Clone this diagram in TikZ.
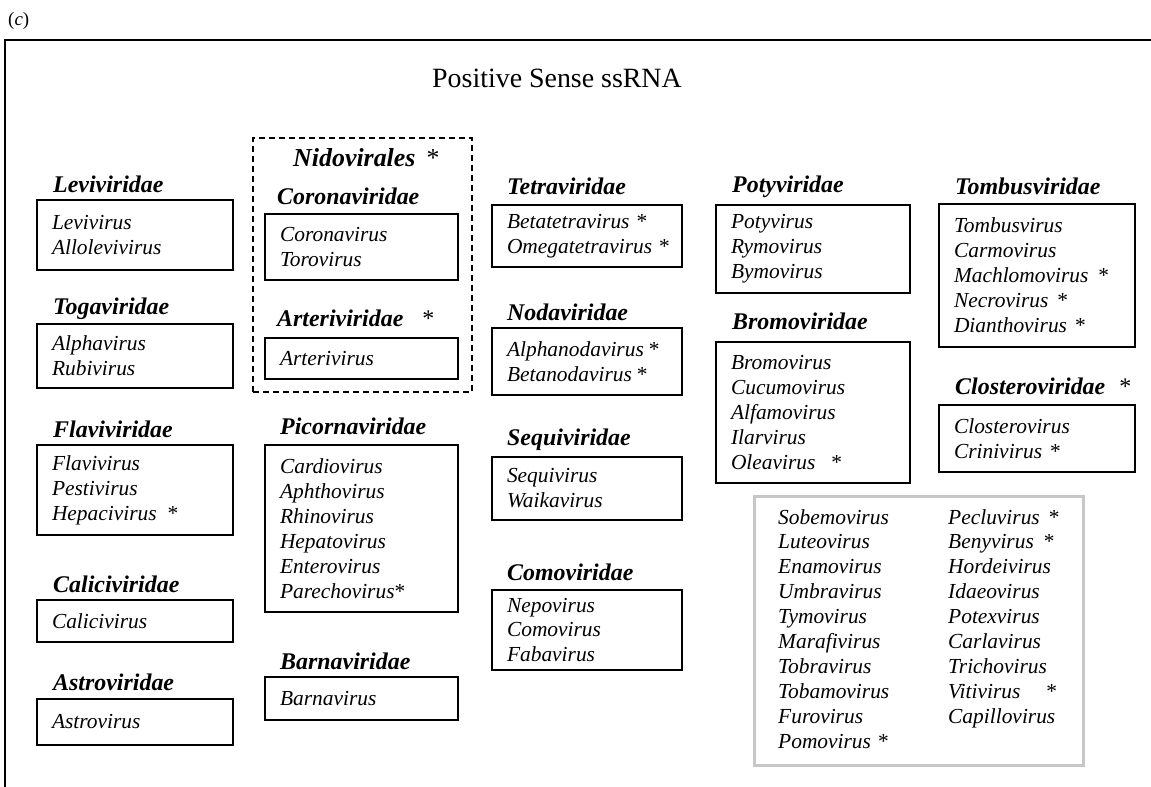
\documentclass[tikz,border=0pt]{standalone}
\usepackage{fontspec}
\setmainfont{Liberation Serif}

\newcommand{\vstar}[1]{\nobreak\hspace{#1bp}{\normalfont *}}

\begin{document}
\begin{tikzpicture}
    [x=1bp,y=-1bp,
fam/.style={anchor=base west,inner sep=0pt,font=\fontsize{24}{28}\selectfont\bfseries\itshape},
gbox/.style={draw,line width=2bp,anchor=north west,outer sep=0pt,inner xsep=15bp,inner ysep=0pt,
  align=left,font=\fontsize{21.5}{25}\selectfont\itshape},
gcol/.style={anchor=north west,inner sep=0pt,align=left,font=\fontsize{21.5}{25}\selectfont\itshape}
]
\useasboundingbox (0,0) rectangle (1151,787);
\draw[line width=2.5bp] (5,787) -- (5,40) -- (1151,40);
\node[anchor=base west,inner sep=0pt,font=\fontsize{19}{22}\selectfont] (panel) at (8,26) {(\textit{c})};
\node[anchor=base,inner sep=0pt,font=\fontsize{28}{32}\selectfont] (title) at (557,88) {Positive Sense ssRNA};

% first column
\node[gbox,text width=166bp,minimum height=70bp] (levibox) at (37,200) {Levivirus\\Allolevivirus};
\node[fam] (levi) at ([shift={(16,-8)}]levibox.north west) {Leviviridae};
\node[gbox,text width=166bp,minimum height=64bp] (togabox) at (37,324) {Alphavirus\\Rubivirus};
\node[fam] (toga) at ([shift={(16,-10)}]togabox.north west) {Togaviridae};
\node[gbox,text width=166bp,minimum height=90bp] (flavibox) at (37,445)
  {Flavivirus\\Pestivirus\\Hepacivirus\vstar{11}};
\node[fam] (flavi) at ([shift={(16,-8)}]flavibox.north west) {Flaviviridae};
\node[gbox,text width=166bp,minimum height=42bp] (calicibox) at (37,600) {Calicivirus};
\node[fam] (calici) at ([shift={(16,-8)}]calicibox.north west) {Caliciviridae};
\node[gbox,text width=166bp,minimum height=46bp] (astrobox) at (37,699) {Astrovirus};
\node[fam] (astro) at ([shift={(16,-9)}]astrobox.north west) {Astroviridae};

% second column
\node[draw,dashed,dash pattern=on 6bp off 4bp,line width=2bp,anchor=north west,outer sep=0pt,
  minimum width=219bp,minimum height=254bp] (nidobox) at (253,138) {};
\node[fam,font=\fontsize{26}{30}\selectfont\bfseries\itshape] (nido) at (293,166) {Nidovirales\vstar{11}};
\node[gbox,text width=163bp,minimum height=66bp] (coronabox) at (265,214) {Coronavirus\\Torovirus};
\node[fam] (corona) at ([shift={(12,-10)}]coronabox.north west) {Coronaviridae};
\node[gbox,text width=163bp,minimum height=41bp] (arteribox) at (265,338) {Arterivirus};
\node[fam] (arteri) at ([shift={(12,-12)}]arteribox.north west) {Arteriviridae\vstar{19}};
\node[gbox,text width=163bp,minimum height=167bp] (picornabox) at (265,445)
  {Cardiovirus\\Aphthovirus\\Rhinovirus\\Hepatovirus\\Enterovirus\\Parechovirus\vstar{0}};
\node[fam] (picorna) at ([shift={(15,-11)}]picornabox.north west) {Picornaviridae};
\node[gbox,text width=163bp,minimum height=43bp] (barnabox) at (265,677) {Barnavirus};
\node[fam] (barna) at ([shift={(15,-8)}]barnabox.north west) {Barnaviridae};

% third column
\node[gbox,text width=160bp,minimum height=62bp] (tetrabox) at (492,205)
  {Betatetravirus\vstar{7}\\Omegatetravirus\vstar{7}};
\node[fam] (tetra) at ([shift={(15,-11)}]tetrabox.north west) {Tetraviridae};
\node[gbox,text width=160bp,minimum height=67bp] (nodabox) at (492,328)
  {Alphanodavirus\vstar{5}\\Betanodavirus\vstar{5}};
\node[fam] (noda) at ([shift={(15,-8)}]nodabox.north west) {Nodaviridae};
\node[gbox,text width=160bp,minimum height=63bp] (sequibox) at (492,457) {Sequivirus\\Waikavirus};
\node[fam] (sequi) at ([shift={(15,-12)}]sequibox.north west) {Sequiviridae};
\node[gbox,text width=160bp,minimum height=80bp] (comobox) at (492,590) {Nepovirus\\Comovirus\\Fabavirus};
\node[fam] (como) at ([shift={(15,-10)}]comobox.north west) {Comoviridae};

% fourth column
\node[gbox,text width=164bp,minimum height=88bp] (potybox) at (716,205) {Potyvirus\\Rymovirus\\Bymovirus};
\node[fam] (poty) at ([shift={(16,-13)}]potybox.north west) {Potyviridae};
\node[gbox,text width=164bp,minimum height=141bp] (bromobox) at (716,342)
  {Bromovirus\\Cucumovirus\\Alfamovirus\\Ilarvirus\\Oleavirus\vstar{16}};
\node[fam] (bromo) at ([shift={(16,-13)}]bromobox.north west) {Bromoviridae};

% fifth column
\node[gbox,text width=166bp,minimum height=143bp] (tombusbox) at (939,204)
  {Tombusvirus\\Carmovirus\\Machlomovirus\vstar{10}\\Necrovirus\vstar{9}\\Dianthovirus\vstar{8}};
\node[fam] (tombus) at ([shift={(16,-10)}]tombusbox.north west) {Tombusviridae};
\node[gbox,text width=166bp,minimum height=67bp] (closterobox) at (939,405)
  {Closterovirus\\Crinivirus\vstar{8}};
\node[fam] (clostero) at ([shift={(16,-11)}]closterobox.north west) {Closteroviridae\vstar{14}};

% unassigned genera
\node[draw=black!22,line width=3bp,anchor=north west,outer sep=0pt,
  minimum width=329bp,minimum height=269bp] (otherbox) at (754,496) {};
\node[gcol] (othera) at (778,509)
  {Sobemovirus\\Luteovirus\\Enamovirus\\Umbravirus\\Tymovirus\\Marafivirus\\Tobravirus\\Tobamovirus\\Furovirus\\Pomovirus\vstar{7}};
\node[gcol] (otherb) at (948,509)
  {Pecluvirus\vstar{9}\\Benyvirus\vstar{10}\\Hordeivirus\\Idaeovirus\\Potexvirus\\Carlavirus\\Trichovirus\\Vitivirus\vstar{26}\\Capillovirus};
\end{tikzpicture}
\end{document}
